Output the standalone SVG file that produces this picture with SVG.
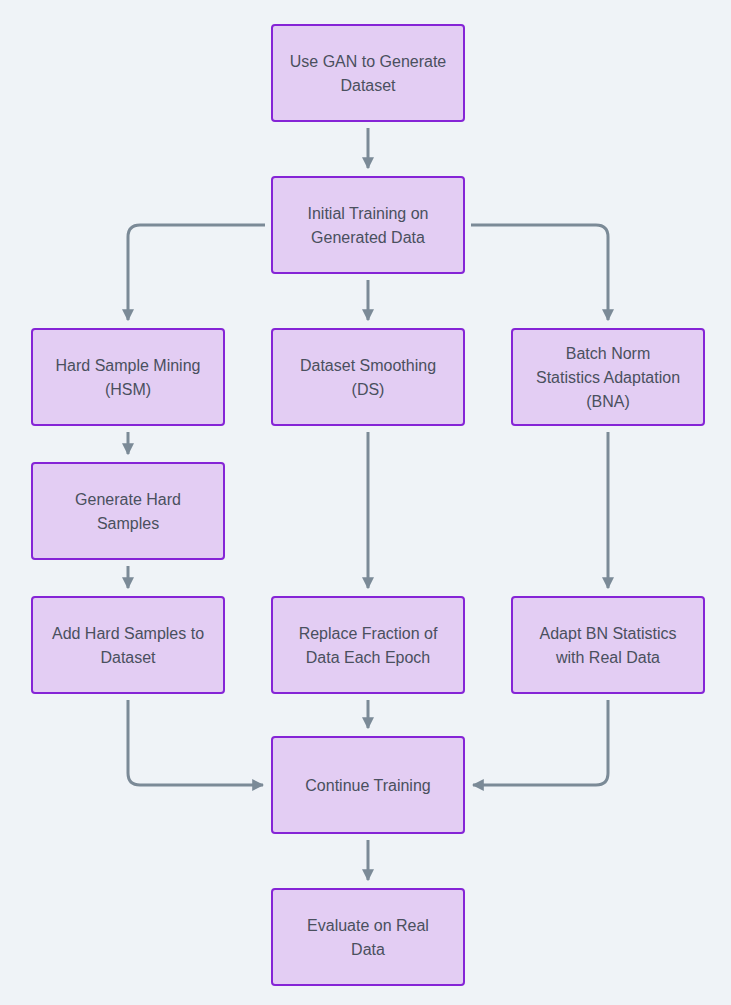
<svg xmlns="http://www.w3.org/2000/svg" width="731" height="1005" viewBox="0 0 731 1005">
<defs>
<marker id="ah" viewBox="0 0 10 10" refX="9" refY="5" markerWidth="4" markerHeight="4" markerUnits="strokeWidth" orient="auto">
<path d="M0,0 L10,5 L0,10 Z" fill="#7b8a97"/>
</marker>
<style>
.n rect{fill:#e3cdf3;stroke:#8524d6;stroke-width:2}
.n text{font-family:"Liberation Sans",Arial,sans-serif;font-size:16px;fill:#4a505e;text-anchor:middle}
.c path{fill:none;stroke:#7b8a97;stroke-width:3;marker-end:url(#ah)}
</style>
</defs>
<rect width="731" height="1005" fill="#eff3f7"/>
<g class="c" id="connectors">
<path d="M368,128 V168"/>
<path d="M265,225 H140 Q128,225 128,237 V320"/>
<path d="M368,280 V320"/>
<path d="M471,225 H596 Q608,225 608,237 V320"/>
<path d="M128,432 V454"/>
<path d="M128,566 V588"/>
<path d="M368,432 V588"/>
<path d="M608,432 V588"/>
<path d="M128,700 V773 Q128,785 140,785 H263"/>
<path d="M368,700 V728"/>
<path d="M608,700 V773 Q608,785 596,785 H473"/>
<path d="M368,840 V880"/>
</g>
<g class="n" id="n1"><rect x="272" y="25" width="192" height="96" rx="3"/><text x="368" y="67">Use GAN to Generate</text><text x="368" y="91">Dataset</text></g>
<g class="n" id="n2"><rect x="272" y="177" width="192" height="96" rx="3"/><text x="368" y="219">Initial Training on</text><text x="368" y="243">Generated Data</text></g>
<g class="n" id="n3"><rect x="32" y="329" width="192" height="96" rx="3"/><text x="128" y="371">Hard Sample Mining</text><text x="128" y="395">(HSM)</text></g>
<g class="n" id="n4"><rect x="272" y="329" width="192" height="96" rx="3"/><text x="368" y="371">Dataset Smoothing</text><text x="368" y="395">(DS)</text></g>
<g class="n" id="n5"><rect x="512" y="329" width="192" height="96" rx="3"/><text x="608" y="359">Batch Norm</text><text x="608" y="383">Statistics Adaptation</text><text x="608" y="407">(BNA)</text></g>
<g class="n" id="n6"><rect x="32" y="463" width="192" height="96" rx="3"/><text x="128" y="505">Generate Hard</text><text x="128" y="529">Samples</text></g>
<g class="n" id="n7"><rect x="32" y="597" width="192" height="96" rx="3"/><text x="128" y="639">Add Hard Samples to</text><text x="128" y="663">Dataset</text></g>
<g class="n" id="n8"><rect x="272" y="597" width="192" height="96" rx="3"/><text x="368" y="639">Replace Fraction of</text><text x="368" y="663">Data Each Epoch</text></g>
<g class="n" id="n9"><rect x="512" y="597" width="192" height="96" rx="3"/><text x="608" y="639">Adapt BN Statistics</text><text x="608" y="663">with Real Data</text></g>
<g class="n" id="n10"><rect x="272" y="737" width="192" height="96" rx="3"/><text x="368" y="791">Continue Training</text></g>
<g class="n" id="n11"><rect x="272" y="889" width="192" height="96" rx="3"/><text x="368" y="931">Evaluate on Real</text><text x="368" y="955">Data</text></g>
</svg>
